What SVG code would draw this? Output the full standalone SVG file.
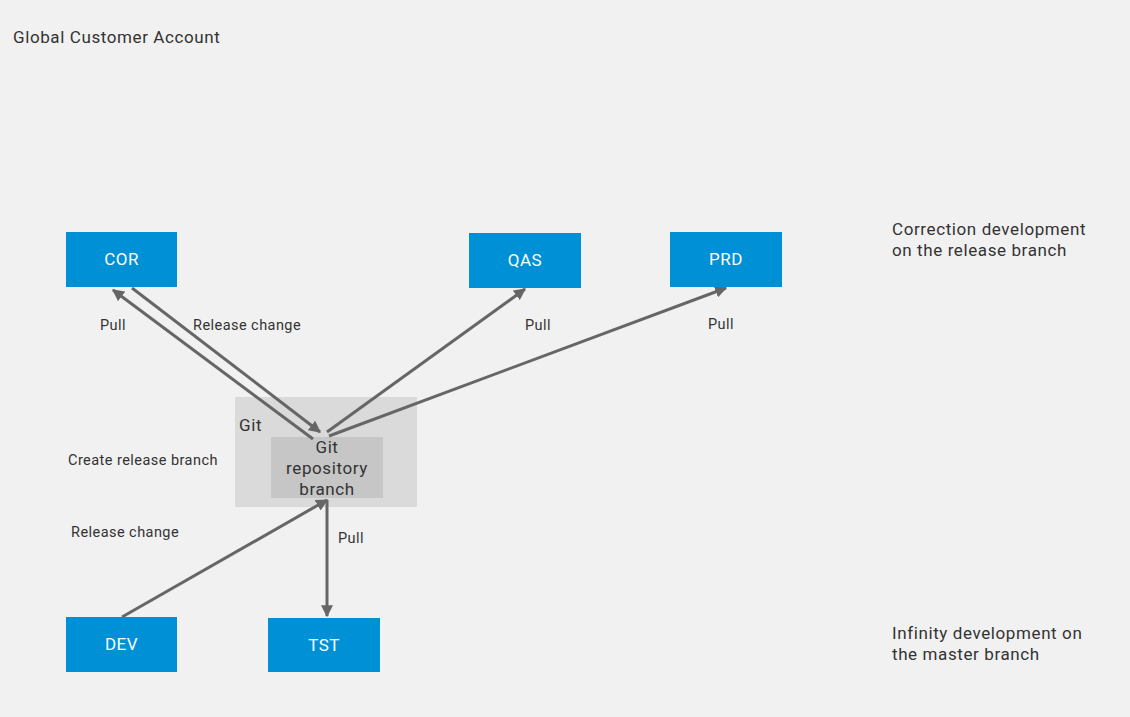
<svg xmlns="http://www.w3.org/2000/svg" width="1130" height="717" viewBox="0 0 1130 717">
<defs>
<marker id="ah" viewBox="0 0 10 10" refX="9" refY="5" markerWidth="4" markerHeight="4" orient="auto-start-reverse" markerUnits="strokeWidth">
<path d="M0,0 L10,5 L0,10 z" fill="#666"/>
</marker>
<style>
.box{fill:#0090d6}
.bl{font-family:Roboto,"Liberation Sans",sans-serif;font-size:17px;letter-spacing:0.5px;fill:#fff;text-anchor:middle}
.lb{font-family:Roboto,"Liberation Sans",sans-serif;font-size:14.5px;letter-spacing:0.45px;fill:#333}
.side{font-family:Roboto,"Liberation Sans",sans-serif;font-size:17px;letter-spacing:0.6px;fill:#333}
.c{stroke:#666;stroke-width:3;fill:none;marker-end:url(#ah)}
</style>
</defs>
<rect width="1130" height="717" fill="#f1f1f1"/>
<text class="side" x="13" y="43">Global Customer Account</text>
<text class="side" x="892" y="235">Correction development</text>
<text class="side" x="892" y="256">on the release branch</text>
<text class="side" x="892" y="639">Infinity development on</text>
<text class="side" x="892" y="660">the master branch</text>
<g id="git">
<rect x="235" y="397" width="182" height="110" fill="#dadada"/>
<text class="side" x="239" y="431">Git</text>
<rect x="271" y="437" width="112" height="61" fill="#c6c6c6"/>
<text class="side" x="327" y="453" text-anchor="middle">Git</text>
<text class="side" x="327" y="474" text-anchor="middle">repository</text>
<text class="side" x="327" y="495" text-anchor="middle">branch</text>
</g>
<g id="connectors">
<line class="c" x1="313" y1="439" x2="113" y2="290"/>
<line class="c" x1="132" y1="288" x2="320" y2="432"/>
<line class="c" x1="327" y1="432" x2="525" y2="289"/>
<line class="c" x1="329" y1="436" x2="726" y2="288"/>
<line class="c" x1="122" y1="617" x2="327" y2="500"/>
<line class="c" x1="327" y1="500" x2="327" y2="616"/>
</g>
<g id="labels">
<text class="lb" x="100" y="330">Pull</text>
<text class="lb" x="193" y="330">Release change</text>
<text class="lb" x="525" y="330">Pull</text>
<text class="lb" x="708" y="329">Pull</text>
<text class="lb" x="68" y="465">Create release branch</text>
<text class="lb" x="71" y="537">Release change</text>
<text class="lb" x="338" y="543">Pull</text>
</g>
<g id="COR"><rect class="box" x="66" y="232" width="111" height="55"/><text class="bl" x="121.5" y="265">COR</text></g>
<g id="QAS"><rect class="box" x="469" y="233" width="112" height="55"/><text class="bl" x="525" y="266">QAS</text></g>
<g id="PRD"><rect class="box" x="670" y="232" width="112" height="55"/><text class="bl" x="726" y="265">PRD</text></g>
<g id="DEV"><rect class="box" x="66" y="617" width="111" height="55"/><text class="bl" x="121.5" y="650">DEV</text></g>
<g id="TST"><rect class="box" x="268" y="618" width="112" height="54"/><text class="bl" x="324" y="651">TST</text></g>
</svg>
